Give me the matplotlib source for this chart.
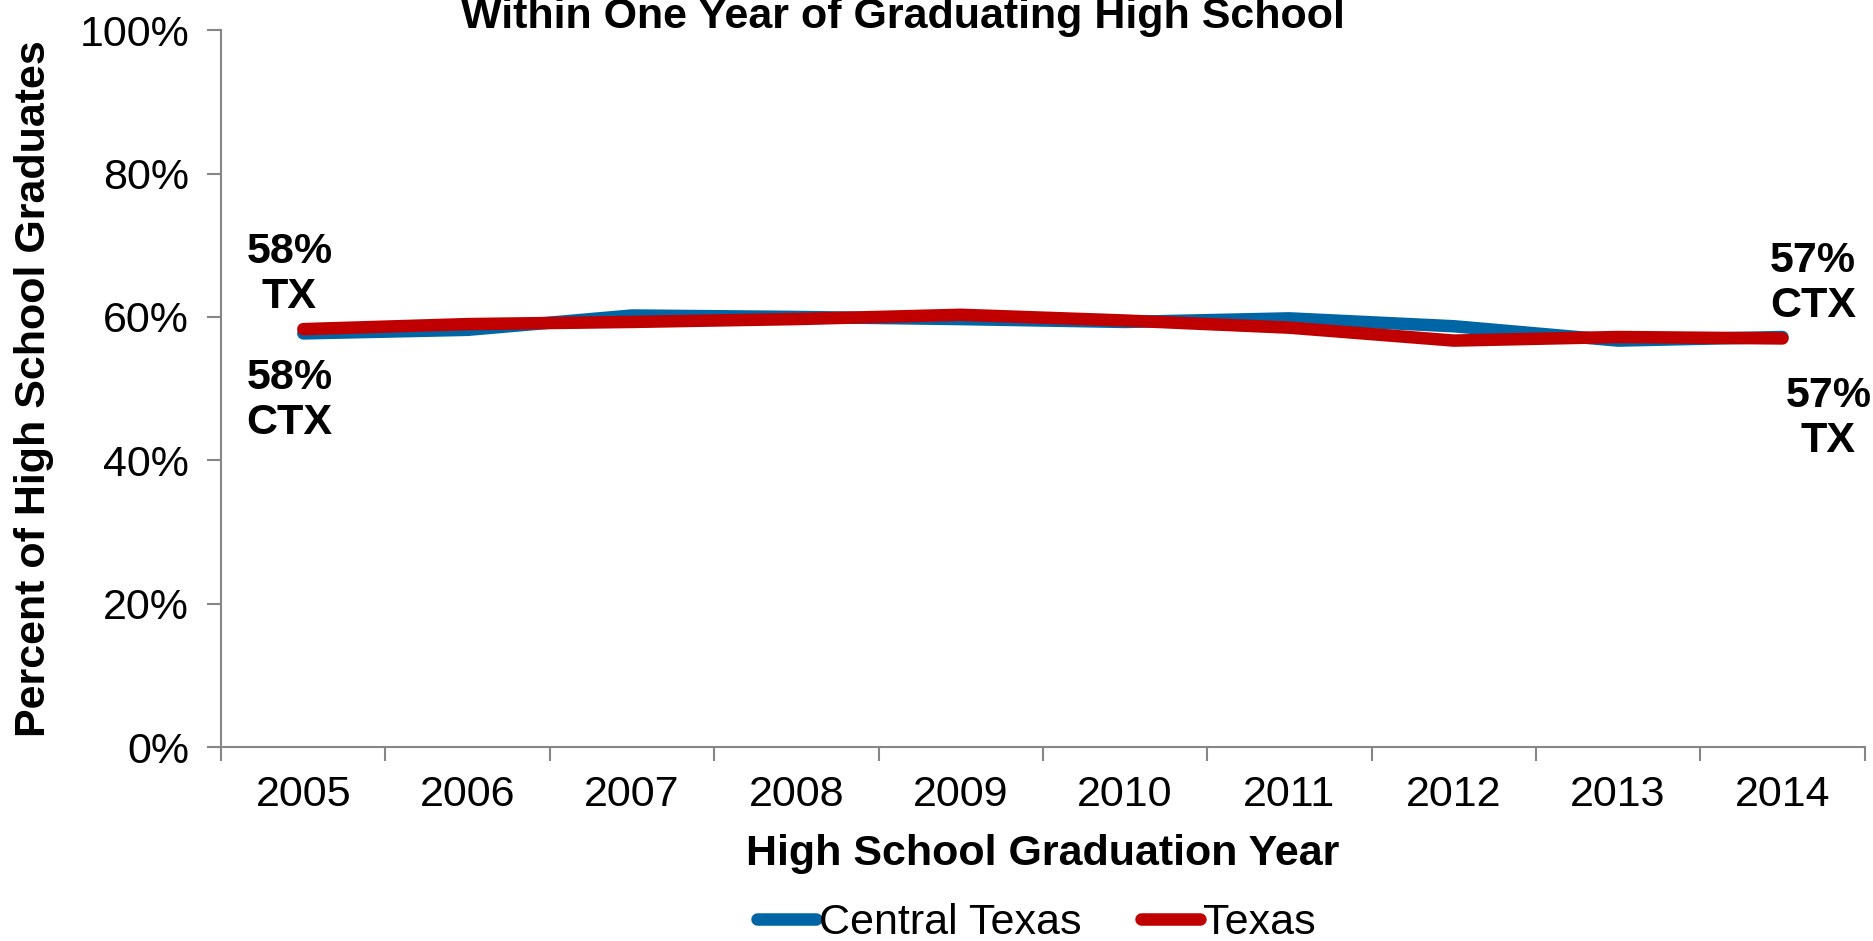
import numpy as np
import matplotlib
matplotlib.use('Agg')
import matplotlib.pyplot as plt
import matplotlib.ticker as ticker

plt.rcParams['font.family'] = ['Liberation Sans', 'DejaVu Sans']

# data
years = ['2005', '2006', '2007', '2008', '2009', '2010', '2011', '2012', '2013', '2014']
central_texas = [57.7, 58.2, 60.2, 60.0, 59.7, 59.3, 59.8, 58.7, 56.7, 57.2]
texas = [58.3, 59.0, 59.3, 59.7, 60.3, 59.5, 58.5, 56.7, 57.2, 57.0]

BLUE = '#0065A4'
RED = '#C00000'
GRAY = '#868686'
FS = 31

fig = plt.figure(figsize=(18.74, 9.41), dpi=100)
ax = fig.add_axes([0.118, 0.206, 0.877, 0.762])

x = np.arange(len(years))
ax.plot(x, central_texas, color=BLUE, lw=9, solid_capstyle='round', label='Central Texas')
ax.plot(x, texas, color=RED, lw=9, solid_capstyle='round', label='Texas')

ax.set_xlim(-0.5, len(years) - 0.5)
ax.set_ylim(0, 100)
ax.yaxis.set_major_locator(ticker.MultipleLocator(20))
ax.yaxis.set_major_formatter(ticker.FuncFormatter(lambda v, p: f'{v:.0f}%'))
ax.set_xticks(np.arange(len(years) + 1) - 0.5)
ax.set_xticklabels([])
ax.set_xticks(x, minor=True)
ax.set_xticklabels(years, minor=True)
ax.tick_params(axis='x', which='minor', length=0, pad=20, labelsize=FS)
ax.tick_params(axis='x', which='major', length=10, width=1.5, color=GRAY)
ax.tick_params(axis='y', length=10, width=1.5, color=GRAY, labelsize=FS, pad=13)

for s in ['top', 'right']:
	ax.spines[s].set_visible(False)
for s in ['left', 'bottom']:
	ax.spines[s].set_color(GRAY)
	ax.spines[s].set_linewidth(1.5)

ax.set_xlabel('High School Graduation Year', fontsize=FS, fontweight='bold', labelpad=14)
ax.set_ylabel('Percent of High School Graduates', fontsize=FS, fontweight='bold', labelpad=18)

# end labels
ax.annotate(f'{texas[0]:.0f}%\nTX', (x[0], texas[0]), xytext=(-10, 9), textcoords='offset points',
	ha='center', va='bottom', fontsize=FS, fontweight='bold', linespacing=1.15)
ax.annotate(f'{central_texas[0]:.0f}%\nCTX', (x[0], central_texas[0]), xytext=(-10, -18), textcoords='offset points',
	ha='center', va='top', fontsize=FS, fontweight='bold', linespacing=1.15)
ax.annotate(f'{central_texas[-1]:.0f}%\nCTX', (x[-1], central_texas[-1]), xytext=(22, 8), textcoords='offset points',
	ha='center', va='bottom', fontsize=FS, fontweight='bold', linespacing=1.15)
ax.annotate(f'{texas[-1]:.0f}%\nTX', (x[-1], texas[-1]), xytext=(33, -27), textcoords='offset points',
	ha='center', va='top', fontsize=FS, fontweight='bold', linespacing=1.15)

fig.text(0.482, 0.970, 'Within One Year of Graduating High School', ha='center', va='baseline',
	fontsize=FS, fontweight='bold')

fig.legend(loc='center', bbox_to_anchor=(0.553, 0.019), ncol=2, frameon=False, fontsize=FS,
	handlelength=1.37, handletextpad=0.05, columnspacing=1.4, borderaxespad=0)

fig.savefig('out.png', dpi=100)
